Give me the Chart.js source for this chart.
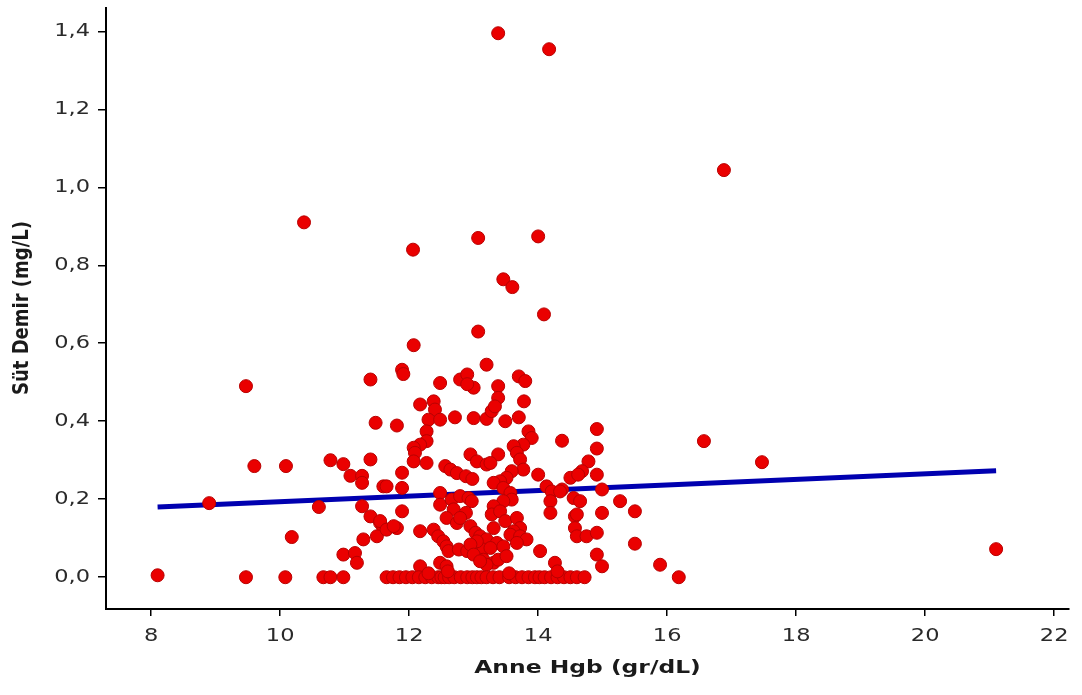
<!DOCTYPE html>
<html>
<head>
<meta charset="utf-8">
<script src="https://cdn.jsdelivr.net/npm/chart.js@4.4.1/dist/chart.umd.min.js"></script>
<style>
    html, body { margin: 0; padding: 0; background: #fff; }
    #wrap { width: 1082px; height: 695px; }
</style>
</head>
<body>
<div id="wrap"><canvas id="chart"></canvas></div>
<script>
// Anne Hgb (x) and Süt Demir (y), point by point
const anneHgb = [
    8.1, 8.9, 9.47, 9.47, 9.6, 10.09, 10.08, 10.18, 10.37, 10.6,
    10.67, 10.78, 10.98, 10.78, 10.98, 11.09, 11.27, 11.27, 11.4, 11.4,
    11.48, 10.98, 11.16, 11.19, 11.27, 11.4, 11.55, 11.6, 11.5, 11.29,
    11.6, 11.65, 11.89, 11.91, 12.07, 12.06, 11.81, 12.17, 12.38, 12.4,
    12.48, 12.3, 12.48, 12.71, 12.27, 12.27, 12.17, 12.07, 12.09, 12.07,
    12.27, 11.89, 11.65, 11.89, 11.89, 11.55, 11.65, 11.81, 11.76, 12.17,
    12.38, 12.45, 12.53, 12.58, 12.61, 12.17, 12.48, 12.58,
    12.79, 12.9, 13.0, 12.9, 13.07, 13.07, 13.2, 13.38, 13.38, 13.38,
    13.7, 13.8, 13.78, 13.0, 13.2, 13.28, 13.33, 13.49, 13.7, 13.85,
    13.9, 13.77, 13.62, 13.67, 13.72, 13.77, 13.59, 13.51, 13.41, 12.95,
    13.05, 13.2, 13.38, 13.26, 12.56, 12.64, 12.74, 12.88, 12.98, 13.46,
    13.6, 14.0, 14.09, 14.17, 12.48, 12.48, 12.66, 12.79, 12.92, 12.97,
    12.69, 12.58, 12.74, 12.88, 12.79, 13.31, 13.46, 13.57, 13.59, 13.46,
    13.31, 13.28, 13.41, 13.49, 13.67, 13.72, 13.62, 13.31, 12.95, 13.03,
    13.1, 13.2, 13.36, 13.46, 13.57, 13.72, 13.82, 13.67, 12.77, 12.9,
    13.05, 13.15, 13.26, 13.15, 13.31, 13.38, 13.51, 13.2, 13.05, 12.95,
    13.0, 13.1,
    14.0, 14.13, 14.21, 14.19, 14.19, 14.37, 14.55, 14.37, 14.91, 14.91,
    14.78, 14.68, 14.5, 14.91, 14.99, 15.27, 15.5, 14.57, 14.99, 14.57,
    14.6, 14.75, 14.91, 15.5, 14.91, 14.99, 15.89, 16.18, 14.03, 14.26,
    14.65, 14.62, 16.57, 16.88, 17.47, 21.1, 14.34, 14.6,
    11.75, 11.85, 11.95, 12.05, 12.15, 12.25, 12.35, 12.45, 12.5, 12.55,
    12.62, 12.7, 12.8, 12.9, 12.98, 13.05, 13.12, 13.2, 13.3, 13.4,
    13.55, 13.65, 13.75, 13.85, 13.95, 14.02, 14.1, 14.2, 14.3, 14.4,
    14.5, 14.6, 14.72, 12.6, 12.3, 13.55, 14.3
];
const sutDemir = [
    0.005, 0.19, 0.49, 0.0, 0.285, 0.285, 0.0, 0.103, 0.91, 0.18,
    0.0, 0.0, 0.0, 0.30, 0.29, 0.26, 0.26, 0.242, 0.302, 0.507,
    0.396, 0.058, 0.062, 0.037, 0.182, 0.156, 0.139, 0.126, 0.105, 0.097,
    0.233, 0.0, 0.532, 0.521, 0.595, 0.84, 0.389, 0.443, 0.451, 0.43,
    0.498, 0.404, 0.404, 0.41, 0.374, 0.349, 0.34, 0.332, 0.319, 0.297,
    0.293, 0.268, 0.233, 0.229, 0.169, 0.144, 0.122, 0.126, 0.131, 0.118,
    0.122, 0.105, 0.092, 0.079, 0.067, 0.028, 0.037, 0.028,
    0.507, 0.52, 0.486, 0.495, 0.63, 0.87, 0.545, 1.395, 0.49, 0.46,
    0.515, 0.503, 0.451, 0.408, 0.406, 0.426, 0.438, 0.40, 0.41, 0.374,
    0.357, 0.34, 0.336, 0.319, 0.302, 0.276, 0.272, 0.255, 0.246, 0.315,
    0.297, 0.289, 0.315, 0.293, 0.285, 0.276, 0.267, 0.259, 0.252, 0.764,
    0.744, 0.874, 0.674, 1.354, 0.216, 0.186, 0.199, 0.208, 0.203, 0.195,
    0.174, 0.152, 0.139, 0.165, 0.152, 0.242, 0.229, 0.216, 0.199, 0.195,
    0.182, 0.161, 0.169, 0.144, 0.152, 0.126, 0.118, 0.126, 0.131, 0.114,
    0.105, 0.097, 0.088, 0.079, 0.109, 0.105, 0.097, 0.088, 0.071, 0.067,
    0.062, 0.071, 0.075, 0.045, 0.037, 0.045, 0.054, 0.032, 0.092, 0.084,
    0.058, 0.041,
    0.263, 0.233, 0.22, 0.195, 0.165, 0.225, 0.203, 0.35, 0.38, 0.33,
    0.297, 0.272, 0.255, 0.263, 0.225, 0.195, 0.169, 0.156, 0.165, 0.126,
    0.105, 0.105, 0.114, 0.086, 0.058, 0.028, 0.032, 0.0, 0.067, 0.037,
    0.195, 0.263, 0.349, 1.044, 0.295, 0.072, 0.22, 0.161,
    0.0, 0.0, 0.0, 0.0, 0.0, 0.0, 0.0, 0.0, 0.0, 0.0,
    0.0, 0.0, 0.0, 0.0, 0.0, 0.0, 0.0, 0.0, 0.0, 0.0,
    0.0, 0.0, 0.0, 0.0, 0.0, 0.0, 0.0, 0.0, 0.0, 0.0,
    0.0, 0.0, 0.0, 0.015, 0.01, 0.01, 0.015
];

// regression line ends
const fitHgb = [8.1, 21.1];
const fitDemir = [0.18, 0.273];

const xTicks = [8, 10, 12, 14, 16, 18, 20, 22];
const yTicks = [0, 0.2, 0.4, 0.6, 0.8, 1.0, 1.2, 1.4];

const xTitle = 'Anne Hgb (gr/dL)';
const yTitle = 'Süt Demir (mg/L)';

const fontFamily = '"DejaVu Sans", Verdana, sans-serif';

const points = anneHgb.map((x, i) => ({x: x, y: sutDemir[i]}));
const fitLine = fitHgb.map((x, i) => ({x: x, y: fitDemir[i]}));

function yLabel(v) {
    return v.toFixed(1).replace('.', ',');
}

// the source picture has its text stretched sideways, so the axis text is drawn here
const wideText = {
    id: 'wideText',
    afterDraw(chart) {
        const ctx = chart.ctx;
        const xs = chart.scales.x;
        const ys = chart.scales.y;
        ctx.save();
        ctx.fillStyle = '#2a2a2a';
        ctx.font = '18px ' + fontFamily;
        ctx.textBaseline = 'middle';

        ctx.textAlign = 'center';
        xTicks.forEach(v => {
            ctx.save();
            ctx.translate(xs.getPixelForValue(v), 636);
            ctx.scale(1.25, 1);
            ctx.fillText(String(v), 0, 0);
            ctx.restore();
        });

        ctx.textAlign = 'right';
        yTicks.forEach(v => {
            ctx.save();
            ctx.translate(90, ys.getPixelForValue(v));
            ctx.scale(1.25, 1);
            ctx.fillText(yLabel(v), 0, 0);
            ctx.restore();
        });

        ctx.fillStyle = '#1a1a1a';
        ctx.font = 'bold 18px ' + fontFamily;
        ctx.textAlign = 'center';

        ctx.save();
        ctx.translate((xs.left + xs.right) / 2, 668);
        ctx.scale(1.3, 1);
        ctx.fillText(xTitle, 0, 0);
        ctx.restore();

        ctx.save();
        ctx.translate(22, 308);
        ctx.scale(1.22, 1);
        ctx.rotate(-Math.PI / 2);
        ctx.fillText(yTitle, 0, 0);
        ctx.restore();

        ctx.restore();
    }
};

new Chart(document.getElementById('chart'), {
    type: 'scatter',
    data: {
        datasets: [
            {
                data: points,
                order: 0,
                pointRadius: 6.5,
                pointHoverRadius: 6.5,
                backgroundColor: '#ea0000',
                borderColor: '#b80000',
                borderWidth: 1
            },
            {
                type: 'line',
                data: fitLine,
                order: 1,
                borderColor: '#0000b0',
                borderWidth: 5,
                pointRadius: 0,
                fill: false
            }
        ]
    },
    plugins: [wideText],
    options: {
        responsive: true,
        maintainAspectRatio: false,
        animation: false,
        layout: {
            padding: {left: 0, right: 13, top: 0, bottom: 0}
        },
        plugins: {
            legend: {display: false},
            tooltip: {enabled: false}
        },
        scales: {
            x: {
                type: 'linear',
                min: 7.3,
                max: 22.23,
                afterBuildTicks: (scale) => {
                    scale.ticks = xTicks.map(v => ({value: v}));
                },
                afterFit: (scale) => {
                    scale.height = 86;
                    scale.paddingLeft = 0;
                    scale.paddingRight = 0;
                },
                border: {display: true, color: '#000', width: 2},
                grid: {
                    drawOnChartArea: false,
                    drawTicks: true,
                    tickLength: 7,
                    color: '#000',
                    lineWidth: 1.5
                },
                ticks: {display: false}
            },
            y: {
                type: 'linear',
                min: -0.0815,
                max: 1.461,
                afterBuildTicks: (scale) => {
                    scale.ticks = yTicks.map(v => ({value: v}));
                },
                afterFit: (scale) => {
                    scale.width = 106;
                    scale.paddingTop = 0;
                    scale.paddingBottom = 0;
                },
                border: {display: true, color: '#000', width: 2},
                grid: {
                    drawOnChartArea: false,
                    drawTicks: true,
                    tickLength: 8,
                    color: '#000',
                    lineWidth: 1.5
                },
                ticks: {display: false}
            }
        }
    }
});
</script>
</body>
</html>
